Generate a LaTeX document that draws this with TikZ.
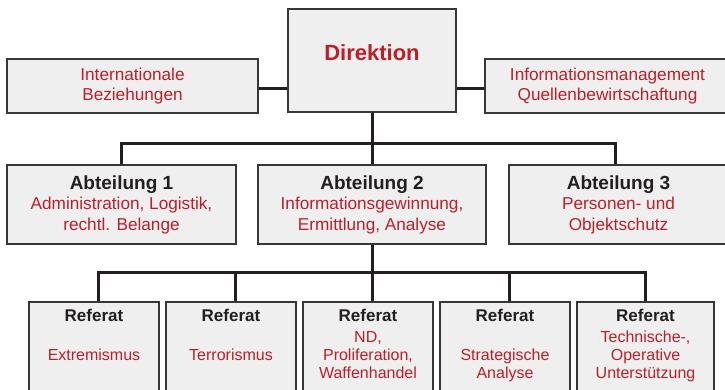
\documentclass[tikz,border=0pt]{standalone}
\usepackage{fontspec}
\setmainfont{Liberation Sans}
\definecolor{rot}{RGB}{190,30,40}
\definecolor{dunkel}{RGB}{35,31,32}
\definecolor{rand}{RGB}{55,55,55}
\definecolor{hell}{RGB}{239,239,239}
\newcommand{\abtkopf}[1]{\textcolor{dunkel}{\bfseries\fontsize{19}{20}\selectfont #1}}
\begin{document}
\begin{tikzpicture}[x=1pt,y=-1pt,
	kasten/.style={draw=rand,line width=1.3pt,fill=hell,inner sep=0pt},
	linie/.style={draw=dunkel,line width=3pt},
	rottext/.style={text=rot,align=center,font=\fontsize{17.2}{20.5}\selectfont},
	reftitel/.style={text=dunkel,font=\bfseries\fontsize{17}{18}\selectfont},
	reftext/.style={text=rot,align=center,anchor=north,inner sep=0pt,font=\fontsize{16}{18}\selectfont}]
	\clip (0,0) rectangle (725,389);
	\def\ytop{86} \def\yabt{204.5} \def\yref{352}
	% Leitung
	\node[kasten,minimum width=168,minimum height=103] (dir) at (372,60.5) {};
	\node[text=rot,font=\bfseries\fontsize{22}{24}\selectfont] (dirtxt) at (372,52.5) {Direktion};
	\node[kasten,rottext,minimum width=251,minimum height=54] (intl) at (132.5,\ytop) {Internationale\\Beziehungen};
	\node[kasten,rottext,minimum width=245,minimum height=54] (infm) at (607.5,\ytop) {Informationsmanagement\\Quellenbewirtschaftung};
	% Abteilungen
	\node[kasten,rottext,minimum width=229,minimum height=79] (abt1) at (121.5,\yabt) {\abtkopf{Abteilung 1}\\Administration, Logistik,\\rechtl. Belange};
	\node[kasten,rottext,minimum width=228,minimum height=79] (abt2) at (372,\yabt) {\abtkopf{Abteilung 2}\\Informationsgewinnung,\\Ermittlung, Analyse};
	\node[kasten,rottext,minimum width=219,minimum height=79] (abt3) at (618.5,\yabt) {\abtkopf{Abteilung 3}\\Personen- und\\Objektschutz};
	% Referate
	\node[kasten,minimum width=130,minimum height=100] (ref1) at (94,\yref) {};
	\node[kasten,minimum width=130,minimum height=100] (ref2) at (231,\yref) {};
	\node[kasten,minimum width=130,minimum height=100] (ref3) at (368,\yref) {};
	\node[kasten,minimum width=130,minimum height=100] (ref4) at (505,\yref) {};
	\node[kasten,minimum width=137,minimum height=100] (ref5) at (645.5,\yref) {};
	\foreach \r in {1,...,5}
		\node[reftitel] (titel\r) at ([yshift=-14pt]ref\r.north) {Referat};
	\node[reftext] (txt1) at ([yshift=-28pt]ref1.north) {\strut\\Extremismus};
	\node[reftext] (txt2) at ([yshift=-28pt]ref2.north) {\strut\\Terrorismus};
	\node[reftext] (txt3) at ([yshift=-28pt]ref3.north) {\strut ND,\\Proliferation,\\Waffenhandel};
	\node[reftext] (txt4) at ([yshift=-28pt]ref4.north) {\strut\\Strategische\\Analyse};
	\node[reftext] (txt5) at ([yshift=-28pt]ref5.north) {\strut Technische-,\\Operative\\Unterstützung};
	% Verbindungen
	\coordinate (bus1) at (372,143);
	\coordinate (bus2) at (372,272);
	\draw[linie] ([yshift=-2pt]intl.east) -- ([yshift=-2pt]intl.east -| dir.west);
	\draw[linie] ([yshift=-2pt]infm.west) -- ([yshift=-2pt]infm.west -| dir.east);
	\draw[linie] (dir.south) -- (abt2.north);
	\draw[linie] (abt1.north) |- (bus1) -| ([xshift=-3.5pt]abt3.north);
	\draw[linie] (abt2.south) -- ([xshift=4pt]ref3.north);
	\draw[linie] ([xshift=4pt]ref1.north) |- (bus2) -| (ref5.north);
	\draw[linie] ([xshift=4pt]ref2.north) -- ([xshift=4pt]ref2.north |- bus2);
	\draw[linie] ([xshift=4pt]ref4.north) -- ([xshift=4pt]ref4.north |- bus2);
\end{tikzpicture}
\end{document}
